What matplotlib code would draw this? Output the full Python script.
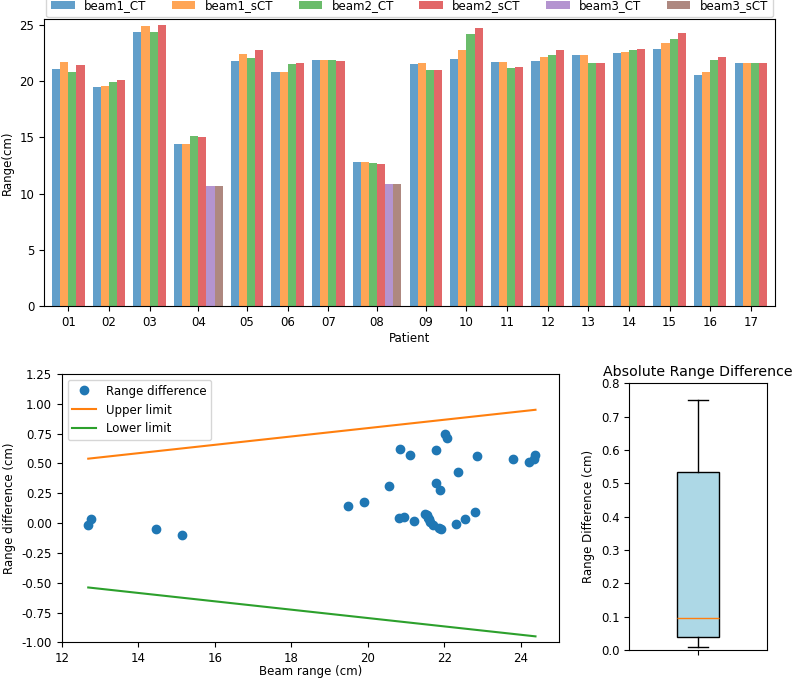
import numpy as np
import matplotlib
matplotlib.use("Agg")
import matplotlib.pyplot as plt

plt.rcParams['font.size'] = 8.5

# patient ids shown on the x axis of the bar chart
patients = ["01", "02", "03", "04", "05", "06", "07", "08", "09",
            "10", "11", "12", "13", "14", "15", "16", "17"]

# beam ranges (cm) on planning CT and synthetic CT
beam1_CT = [21.10, 19.47, 24.34, 14.45, 21.79, 20.80, 21.91, 12.77, 21.49,
            22.01, 21.70, 21.79, 22.29, 22.54, 22.86, 20.54, 21.62]
beam1_sCT = [21.67, 19.61, 24.88, 14.40, 22.40, 20.84, 21.86, 12.80, 21.57,
             22.76, 21.68, 22.13, 22.28, 22.57, 23.42, 20.85, 21.63]
beam2_CT = [20.85, 19.91, 24.38, 15.13, 22.06, 21.55, 21.86, 12.69, 20.95,
            24.20, 21.21, 22.35, 21.58, 22.81, 23.78, 21.88, 21.60]
beam2_sCT = [21.47, 20.09, 24.95, 15.03, 22.77, 21.62, 21.82, 12.67, 21.00,
             24.71, 21.23, 22.78, 21.62, 22.90, 24.32, 22.16, 21.63]
nan = np.nan
beam3_CT = [nan, nan, nan, 10.68, nan, nan, nan, 10.83, nan,
            nan, nan, nan, nan, nan, nan, nan, nan]
beam3_sCT = [nan, nan, nan, 10.68, nan, nan, nan, 10.83, nan,
             nan, nan, nan, nan, nan, nan, nan, nan]

# tolerance band endpoints (cm)
limit_x = [12.69, 24.38]
upper_limit = [0.54, 0.95]
lower_limit = [-0.54, -0.95]

series = [("beam1_CT", beam1_CT), ("beam1_sCT", beam1_sCT),
          ("beam2_CT", beam2_CT), ("beam2_sCT", beam2_sCT),
          ("beam3_CT", beam3_CT), ("beam3_sCT", beam3_sCT)]

# range differences for beam 1 and 2 (sCT - CT), plotted against CT range
ct_all = np.array(beam1_CT + beam2_CT)
sct_all = np.array(beam1_sCT + beam2_sCT)
diff = sct_all - ct_all

fig = plt.figure(figsize=(8.0, 6.79), dpi=100)

# --- top: grouped bar chart, each patient only gets as many slots as beams ---
ax1 = fig.add_axes([0.055, 0.5493, 0.914, 0.4223])
table = np.array([vals for _, vals in series], dtype=float)  # (6, n_patients)
xpos = {}  # (series index, patient index) -> left edge
centers = []
cursor = 0.0
for p in range(len(patients)):
    present = [k for k in range(len(series)) if not np.isnan(table[k, p])]
    for j, k in enumerate(present):
        xpos[(k, p)] = cursor + j
    centers.append(cursor + len(present) / 2.0)
    cursor += len(present) + 1  # one empty slot between patients

for k, (name, vals) in enumerate(series):
    idx = [p for p in range(len(patients)) if (k, p) in xpos]
    ax1.bar([xpos[(k, p)] for p in idx], [vals[p] for p in idx], 1.0,
            align='edge', alpha=0.7, color="C%d" % k, label=name)
ax1.set_xticks(centers)
ax1.set_xticklabels(patients)
ax1.set_xlim(-1, cursor)
ax1.set_ylim(0, 25.5)
ax1.set_yticks([0, 5, 10, 15, 20, 25])
ax1.set_xlabel("Patient", labelpad=2)
ax1.set_ylabel("Range(cm)")
ax1.legend(loc='lower left', bbox_to_anchor=(0, 1.0, 1, 0.0), mode='expand',
           ncol=6, borderaxespad=0.2)

# --- bottom left: differences vs beam range ---
ax2 = fig.add_axes([0.0773, 0.054, 0.6217, 0.3952])
ax2.plot(ct_all, diff, 'o', label="Range difference")
ax2.plot(limit_x, upper_limit, color='C1', label="Upper limit")
ax2.plot(limit_x, lower_limit, color='C2', label="Lower limit")
ax2.set_xlim(12, 25)
ax2.set_ylim(-1.0, 1.25)
ax2.set_xticks(np.arange(12, 25, 2))
ax2.set_yticks(np.arange(-1.0, 1.26, 0.25))
ax2.yaxis.set_major_formatter(matplotlib.ticker.FormatStrFormatter('%.2f'))
ax2.set_xlabel("Beam range (cm)", labelpad=0)
ax2.set_ylabel("Range difference (cm)")
ax2.legend(loc='upper left')

# --- bottom right: boxplot of absolute differences ---
ax3 = fig.add_axes([0.7866, 0.0427, 0.1718, 0.3928])
ax3.boxplot(np.abs(diff), widths=0.3, patch_artist=True,
            boxprops=dict(facecolor='lightblue'))
ax3.set_xticks([1])
ax3.set_xticklabels([''])
ax3.set_ylim(0, 0.8)
ax3.set_yticks(np.arange(0, 0.81, 0.1))
ax3.yaxis.set_major_formatter(matplotlib.ticker.FormatStrFormatter('%.1f'))
ax3.set_ylabel("Range Difference (cm)")
ax3.set_title("Absolute Range Difference", pad=5)

fig.savefig("out.png", dpi=100)
